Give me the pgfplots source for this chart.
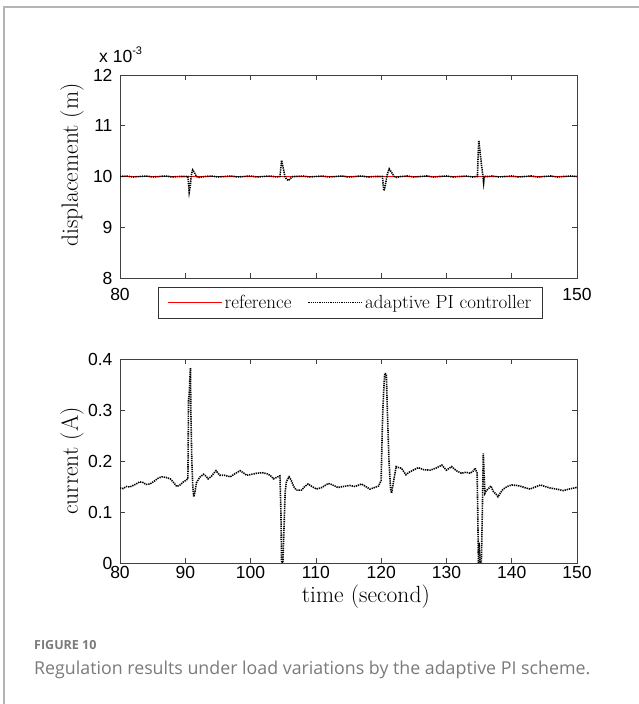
\documentclass[border=0pt]{standalone}
\usepackage{fontspec}
\usepackage{pgfplots}
\pgfplotsset{compat=1.18}
\newfontfamily\arial{Liberation Sans}
\newfontfamily\lmr{Latin Modern Roman}
\newfontfamily\opensans{Open Sans}
\definecolor{capgray}{HTML}{7A7A7A}
\definecolor{framegray}{HTML}{B4B4B4}

\pgfplotsset{
  myaxis/.style={
    scale only axis,
    width=457pt,
    anchor=south west,
    xmin=80, xmax=150,
    xtick={80,90,...,150},
    tick align=inside,
    major tick length=5pt,
    axis line style={black!75, line width=0.8pt},
    tick style={black!75, line width=0.6pt},
    tick label style={font=\arial\fontsize{17.5}{20}\selectfont},
    yticklabel style={xshift=-4pt},
    /pgf/number format/assume math mode=true,
    label style={font=\lmr\fontsize{23.5}{28}\selectfont},
  },
  pitrace/.style={black, line width=1.6pt, dash pattern=on 1.3pt off 0.9pt},
}

\begin{document}
\begin{tikzpicture}[x=1pt,y=1pt]
\path[use as bounding box] (0pt,0pt) rectangle (639pt,704pt);
\draw[framegray, line width=1.6pt] (4pt,0pt) -- (4pt,697pt) -- (639pt,697pt);

% ---------- top axis ----------
\begin{axis}[myaxis,
  at={(120pt,426pt)}, height=203pt,
  ymin=8, ymax=12, ytick={8,9,10,11,12},
  yticklabels={8,9,10,11,12},
  xticklabels={80,,,,,,,150},
  xticklabel style={yshift=-7pt},
  ylabel={displacement (m)},
  ylabel style={at={(axis description cs:-0.105,0.557)}, anchor=center},
  legend columns=2,
  legend style={at={(axis description cs:0.504,-0.044)}, anchor=north,
    draw=black!80, fill=white, line width=0.6pt,
    font=\lmr\fontsize{19}{22}\selectfont,
    inner xsep=9pt, inner ysep=6pt,
    /tikz/every even column/.append style={column sep=14pt}},
  legend image code/.code={\draw[#1] (0pt,0pt) -- (54pt,0pt);},
]
\addplot[red, line width=1.3pt] coordinates {(80,10) (150,10)};
\addlegendentry{reference}
\addplot[pitrace] coordinates {
(80,10.0) (81,10.01) (82,9.99) (83,10.0) (84,10.01) (85,9.99) (86,10.0) (87,10.01) (88,9.99) (89,10.0)
(90,10.0) (90.4,10.0) (90.5,9.85) (90.6,9.69) (90.75,9.80) (90.95,10.05) (91.13,10.13) (91.4,10.08) (91.7,10.0) (92.0,9.98)
(93,10.0) (94,10.01) (95,9.99) (96,10.0) (97,10.01) (98,9.99) (99,10.0) (100,10.01) (101,9.99) (102,10.0) (103,10.01) (104,9.99)
(104.5,10.0) (104.62,10.15) (104.76,10.32) (104.95,10.2) (105.27,10.0) (105.5,9.95) (105.8,9.92) (106.1,9.96) (106.5,10.0)
(107,10.0) (108,10.01) (109,9.99) (110,10.0) (111,10.01) (112,9.99) (113,10.0) (114,10.01) (115,9.99) (116,10.0) (117,10.01) (118,9.99) (119,10.0)
(120.2,10.0) (120.3,9.85) (120.43,9.72) (120.6,9.80) (120.95,10.05) (121.24,10.15) (121.6,10.08) (122.0,10.0) (122.4,9.98)
(123,10.0) (124,10.01) (125,9.99) (126,10.0) (127,10.01) (128,9.99) (129,10.0) (130,10.01) (131,9.99) (132,10.0) (133,10.01) (134,9.99)
(134.75,10.0) (134.85,10.4) (134.96,10.71) (135.1,10.55) (135.35,10.25) (135.6,10.0) (135.7,9.88) (135.8,10.0)
(136.5,10.0) (137,10.01) (138,9.99) (139,10.0) (140,10.01) (141,9.99) (142,10.0) (143,10.01) (144,9.99) (145,10.0) (146,10.01) (147,9.99) (148,10.0) (149,10.01) (150,10.0)
};
\addlegendentry{adaptive PI controller}
\end{axis}

% ---------- bottom axis ----------
\begin{axis}[myaxis,
  at={(120pt,141pt)}, height=204pt,
  ymin=0, ymax=0.4, ytick={0,0.1,0.2,0.3,0.4},
  yticklabels={0,0.1,0.2,0.3,0.4},
  xticklabels={80,90,100,110,120,130,140,150},
  ylabel={current (A)},
  ylabel style={at={(axis description cs:-0.105,0.5)}, anchor=center},
  xlabel={time (second)},
  xlabel style={at={(axis description cs:0.538,-0.167)}, anchor=center},
]
\addplot[pitrace] coordinates {
(80,0.147) (80.5,0.146) (81,0.150) (81.5,0.149) (82,0.152) (82.5,0.155) (83,0.159) (83.5,0.158) (84,0.154) (84.6,0.155)
(85.2,0.160) (85.8,0.166) (86.4,0.169) (87,0.168) (87.7,0.165) (88.2,0.158) (88.7,0.150) (89.2,0.153) (89.7,0.159) (90.1,0.162)
(90.4,0.165) (90.5,0.32) (90.6,0.33) (90.7,0.36) (90.8,0.382) (90.85,0.30) (91.0,0.20) (91.15,0.15) (91.3,0.130) (91.5,0.140)
(91.7,0.157) (92.2,0.168) (92.8,0.174) (93.2,0.170) (93.5,0.165) (94.0,0.170) (94.7,0.181) (95.3,0.172) (96.0,0.172) (96.9,0.169)
(97.6,0.175) (98.4,0.181) (99.0,0.176) (99.4,0.172) (100.2,0.174) (101.0,0.176) (101.8,0.177) (102.5,0.175) (103.0,0.172) (103.5,0.165)
(104.0,0.168) (104.5,0.171) (104.65,0.10) (104.75,0.0) (104.95,0.0) (105.1,0.06) (105.3,0.14) (105.5,0.160) (105.9,0.169) (106.2,0.163)
(106.6,0.150) (107.0,0.143) (107.8,0.143) (108.3,0.150) (108.8,0.155) (109.4,0.150) (110.1,0.145) (110.9,0.148) (111.9,0.156) (112.4,0.154)
(113.4,0.148) (114.2,0.150) (115.2,0.152) (116.0,0.150) (117.0,0.155) (117.6,0.150) (118.3,0.145) (119.0,0.148) (119.6,0.151) (120.0,0.162)
(120.15,0.25) (120.25,0.297) (120.4,0.34) (120.55,0.372) (120.8,0.37) (120.95,0.30) (121.2,0.20) (121.45,0.145) (121.6,0.137) (121.9,0.16)
(122.3,0.189) (122.7,0.187) (123.1,0.186) (123.8,0.173) (124.3,0.178) (124.9,0.182) (125.7,0.187) (126.5,0.183) (127.5,0.182) (128.4,0.186)
(129.3,0.192) (130.0,0.182) (130.8,0.189) (131.5,0.181) (132.3,0.176) (133.0,0.178) (133.6,0.176) (134.1,0.180) (134.4,0.186) (134.7,0.176)
(134.8,0.10) (134.9,0.0) (135.0,0.04) (135.15,0.0) (135.35,0.0) (135.5,0.10) (135.65,0.215) (135.75,0.18) (135.9,0.137) (136.1,0.142)
(136.4,0.145) (136.8,0.151) (137.2,0.140) (137.6,0.135) (137.9,0.130) (138.3,0.138) (138.7,0.145) (139.3,0.150) (140.0,0.153) (140.8,0.152)
(141.5,0.150) (142.2,0.147) (142.8,0.145) (143.6,0.149) (144.4,0.153) (145.1,0.150) (145.9,0.147) (146.8,0.145) (147.9,0.142) (148.8,0.145)
(149.9,0.148) (150,0.148)
};
\end{axis}

% exponent label
\node[anchor=base west, inner sep=0pt, font=\arial\fontsize{17.5}{20}\selectfont] at (99pt,641pt) {x 10\raisebox{8pt}{\fontsize{11}{12}\selectfont -3}};

% caption
\node[anchor=base west, inner sep=0pt, text=capgray, font=\opensans\bfseries\fontsize{12.5}{14}\selectfont] at (34pt,54pt) {FIGURE 10};
\node[anchor=base west, inner sep=0pt, text=capgray, font=\opensans\fontsize{17.8}{20}\selectfont] at (34pt,29pt) {Regulation results under load variations by the adaptive PI scheme.};
\end{tikzpicture}
\end{document}
